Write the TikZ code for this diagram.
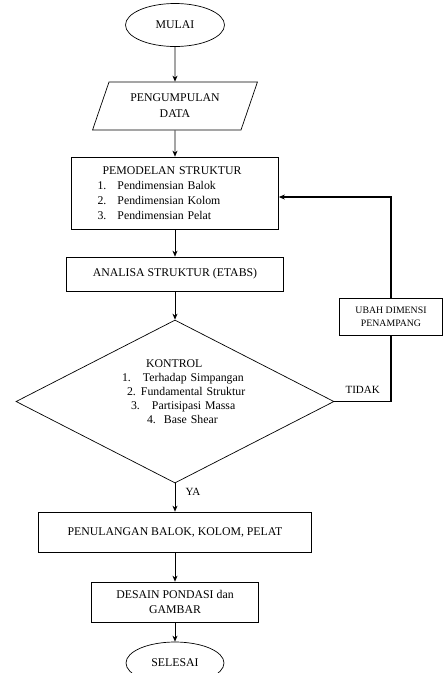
\documentclass[tikz,border=0pt]{standalone}
\usepackage{fontspec}
\setmainfont{Liberation Serif}
\usetikzlibrary{shapes,arrows,positioning,calc,arrows.meta}

\newcommand{\nomor}[2][20pt]{\makebox[#1][l]{#2}}

\begin{document}
\begin{tikzpicture}[auto, node distance=28pt,
        block/.style={draw, rectangle, line width=0.7pt, align=center, inner sep=3pt, font=\fontsize{11.8}{15}\selectfont},
        term/.style={draw, ellipse, line width=0.7pt, inner sep=0pt, minimum width=99pt, minimum height=43pt, font=\fontsize{11.8}{15}\selectfont},
        io/.style={draw, trapezium, trapezium left angle=65, trapezium right angle=115, trapezium stretches=true, line width=0.7pt, align=center, inner sep=0pt, font=\fontsize{11.8}{16}\selectfont},
        decision/.style={draw, diamond, line width=0.7pt, inner sep=0pt, minimum width=318pt, minimum height=163pt},
        lbl/.style={font=\fontsize{11}{13}\selectfont},
        >={Stealth[length=6pt,width=5pt]}, line width=0.7pt
    ]
        \useasboundingbox (0,0) rectangle (443pt,-673pt);

        \node [term] (mulai) at (175pt,-25pt) {MULAI};
        \node [io, below=34.8pt of mulai, minimum width=165pt, minimum height=48pt] (data) {PENGUMPULAN\\DATA};
        \node [block, below=26.3pt of data, minimum width=207pt, minimum height=72pt, text width=155pt, align=left] (model)
            {\hspace*{5pt}PEMODELAN STRUKTUR\\ \nomor{1.}Pendimensian Balok\\ \nomor{2.}Pendimensian Kolom\\ \nomor{3.}Pendimensian Pelat};
        \node [block, below=27.3pt of model, minimum width=217pt, minimum height=34pt] (analisa) {ANALISA STRUKTUR (ETABS)};
        \node [decision, below=28.3pt of analisa] (kontrol) {};
        \node [align=left, text width=130pt, inner sep=0pt, font=\fontsize{11.8}{14}\selectfont] (kontroltxt)
            at ([xshift=12pt,yshift=10pt]kontrol.center)
            {\hspace*{24pt}KONTROL\\ \nomor[21pt]{1.}Terhadap Simpangan\\ \hspace*{5pt}\nomor[14pt]{2.}Fundamental Struktur\\ \hspace*{9pt}\nomor[21pt]{3.}Partisipasi Massa\\ \hspace*{25pt}\nomor[17pt]{4.}Base Shear};
        \node [block, below=28.3pt of kontrol, minimum width=273pt, minimum height=40pt] (tulangan) {PENULANGAN BALOK, KOLOM, PELAT};
        \node [block, below=29.3pt of tulangan, minimum width=167pt, minimum height=40pt] (desain) {DESAIN PONDASI dan\\GAMBAR};
        \node [term, below=19.3pt of desain, minimum width=98pt, minimum height=42pt] (selesai) {SELESAI};
        \node [block, font=\fontsize{9.8}{13}\selectfont, minimum width=103pt, minimum height=37pt] (ubah) at (391pt,-316.5pt) {UBAH DIMENSI\\PENAMPANG};

        \draw [->] (mulai) -- (data);
        \draw [->] (data) -- (model);
        \draw [->] (model) -- (analisa);
        \draw [->] (analisa) -- (kontrol);
        \draw [->] (kontrol) -- node[right=7pt, pos=0.3, lbl]{YA} (tulangan);
        \draw [->] (tulangan) -- (desain);
        \draw [->] (desain) -- (selesai);
        % jalur kembali
        \draw [line width=1.6pt] (kontrol.east) -- node[above=4pt, lbl]{TIDAK} (kontrol.east -| ubah.south) -- (ubah.south);
        \draw [->, line width=1.6pt] (ubah.north) |- ([yshift=-4pt]model.east);
    \end{tikzpicture}
\end{document}
